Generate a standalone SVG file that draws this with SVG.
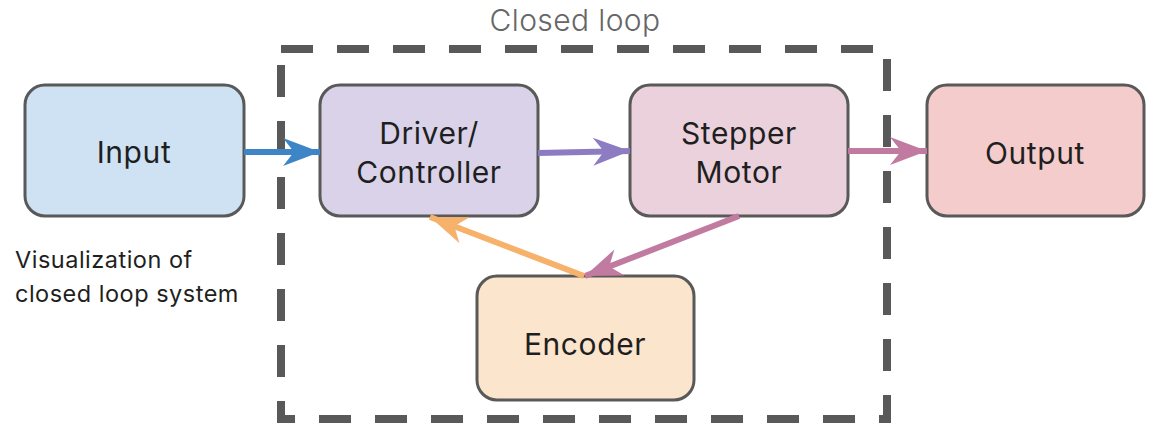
<svg xmlns="http://www.w3.org/2000/svg" width="1149" height="426" viewBox="0 0 1149 426">
  <style>
    .box { stroke: #595959; stroke-width: 3; }
    .lbl { font-family: Inter, "Noto Sans", sans-serif; font-size: 30px; fill: #1f1f1f; text-anchor: middle; dominant-baseline: central; letter-spacing: 0.6px; }
    .note { font-family: Inter, "Noto Sans", sans-serif; font-size: 23.5px; fill: #1f1f1f; letter-spacing: 0.5px; }
    .title { font-family: Inter, "Noto Sans", sans-serif; font-size: 30px; font-weight: 300; fill: #666666; text-anchor: middle; letter-spacing: 0.4px; }
    .edge { fill: none; stroke-width: 6; }
  </style>
  <defs>
    <marker id="ah-blue" markerUnits="userSpaceOnUse" markerWidth="40" markerHeight="32" refX="38" refY="16" orient="auto" viewBox="0 0 40 32">
      <path d="M38,16 L1,2 L12,16 L1,30 Z" fill="#3d85c6"/>
    </marker>
    <marker id="ah-purple" markerUnits="userSpaceOnUse" markerWidth="40" markerHeight="32" refX="38" refY="16" orient="auto" viewBox="0 0 40 32">
      <path d="M38,16 L1,2 L12,16 L1,30 Z" fill="#8e7cc3"/>
    </marker>
    <marker id="ah-pink" markerUnits="userSpaceOnUse" markerWidth="40" markerHeight="32" refX="38" refY="16" orient="auto" viewBox="0 0 40 32">
      <path d="M38,16 L1,2 L12,16 L1,30 Z" fill="#c27ba0"/>
    </marker>
    <marker id="ah-orange" markerUnits="userSpaceOnUse" markerWidth="40" markerHeight="32" refX="38" refY="16" orient="auto" viewBox="0 0 40 32">
      <path d="M38,16 L1,2 L12,16 L1,30 Z" fill="#f6b26b"/>
    </marker>
  </defs>

  <rect width="1149" height="426" fill="#ffffff"/>

  <!-- closed loop boundary -->
  <g id="loop-boundary">
    <path d="M281,49 H887 V419 H281 Z" fill="none" stroke="#595959" stroke-width="8" stroke-dasharray="32 24"/>
    <text class="title" x="575" y="31">Closed loop</text>
  </g>

  <g id="caption">
    <text class="note" x="15" y="268">Visualization of</text>
    <text class="note" x="15" y="302">closed loop system</text>
  </g>

  <g id="input">
    <rect class="box" x="25" y="85" width="219" height="131" rx="20" fill="#cfe2f3"/>
    <text class="lbl" x="134" y="152">Input</text>
  </g>
  <g id="driver">
    <rect class="box" x="320" y="85" width="218" height="131" rx="20" fill="#d9d2e9"/>
    <text class="lbl" x="429" y="133">Driver/</text>
    <text class="lbl" x="429" y="172">Controller</text>
  </g>
  <g id="stepper">
    <rect class="box" x="630" y="85" width="218" height="131" rx="20" fill="#ead1dc"/>
    <text class="lbl" x="739" y="133">Stepper</text>
    <text class="lbl" x="739" y="172">Motor</text>
  </g>
  <g id="output">
    <rect class="box" x="927" y="85" width="217" height="131" rx="20" fill="#f4cccc"/>
    <text class="lbl" x="1035" y="153">Output</text>
  </g>
  <g id="encoder">
    <rect class="box" x="477" y="276" width="217" height="124" rx="20" fill="#fce5cd"/>
    <text class="lbl" x="585" y="344">Encoder</text>
  </g>

  <g id="connectors">
    <line class="edge" x1="244" y1="152" x2="320" y2="152" stroke="#3d85c6" marker-end="url(#ah-blue)"/>
    <line class="edge" x1="538" y1="153" x2="630" y2="151" stroke="#8e7cc3" marker-end="url(#ah-purple)"/>
    <line class="edge" x1="848" y1="151" x2="927" y2="151" stroke="#c27ba0" marker-end="url(#ah-pink)"/>
    <line class="edge" x1="739" y1="216" x2="585" y2="276" stroke="#c27ba0" marker-end="url(#ah-pink)"/>
    <line class="edge" x1="584" y1="276" x2="430" y2="217" stroke="#f6b26b" marker-end="url(#ah-orange)"/>
  </g>
</svg>
